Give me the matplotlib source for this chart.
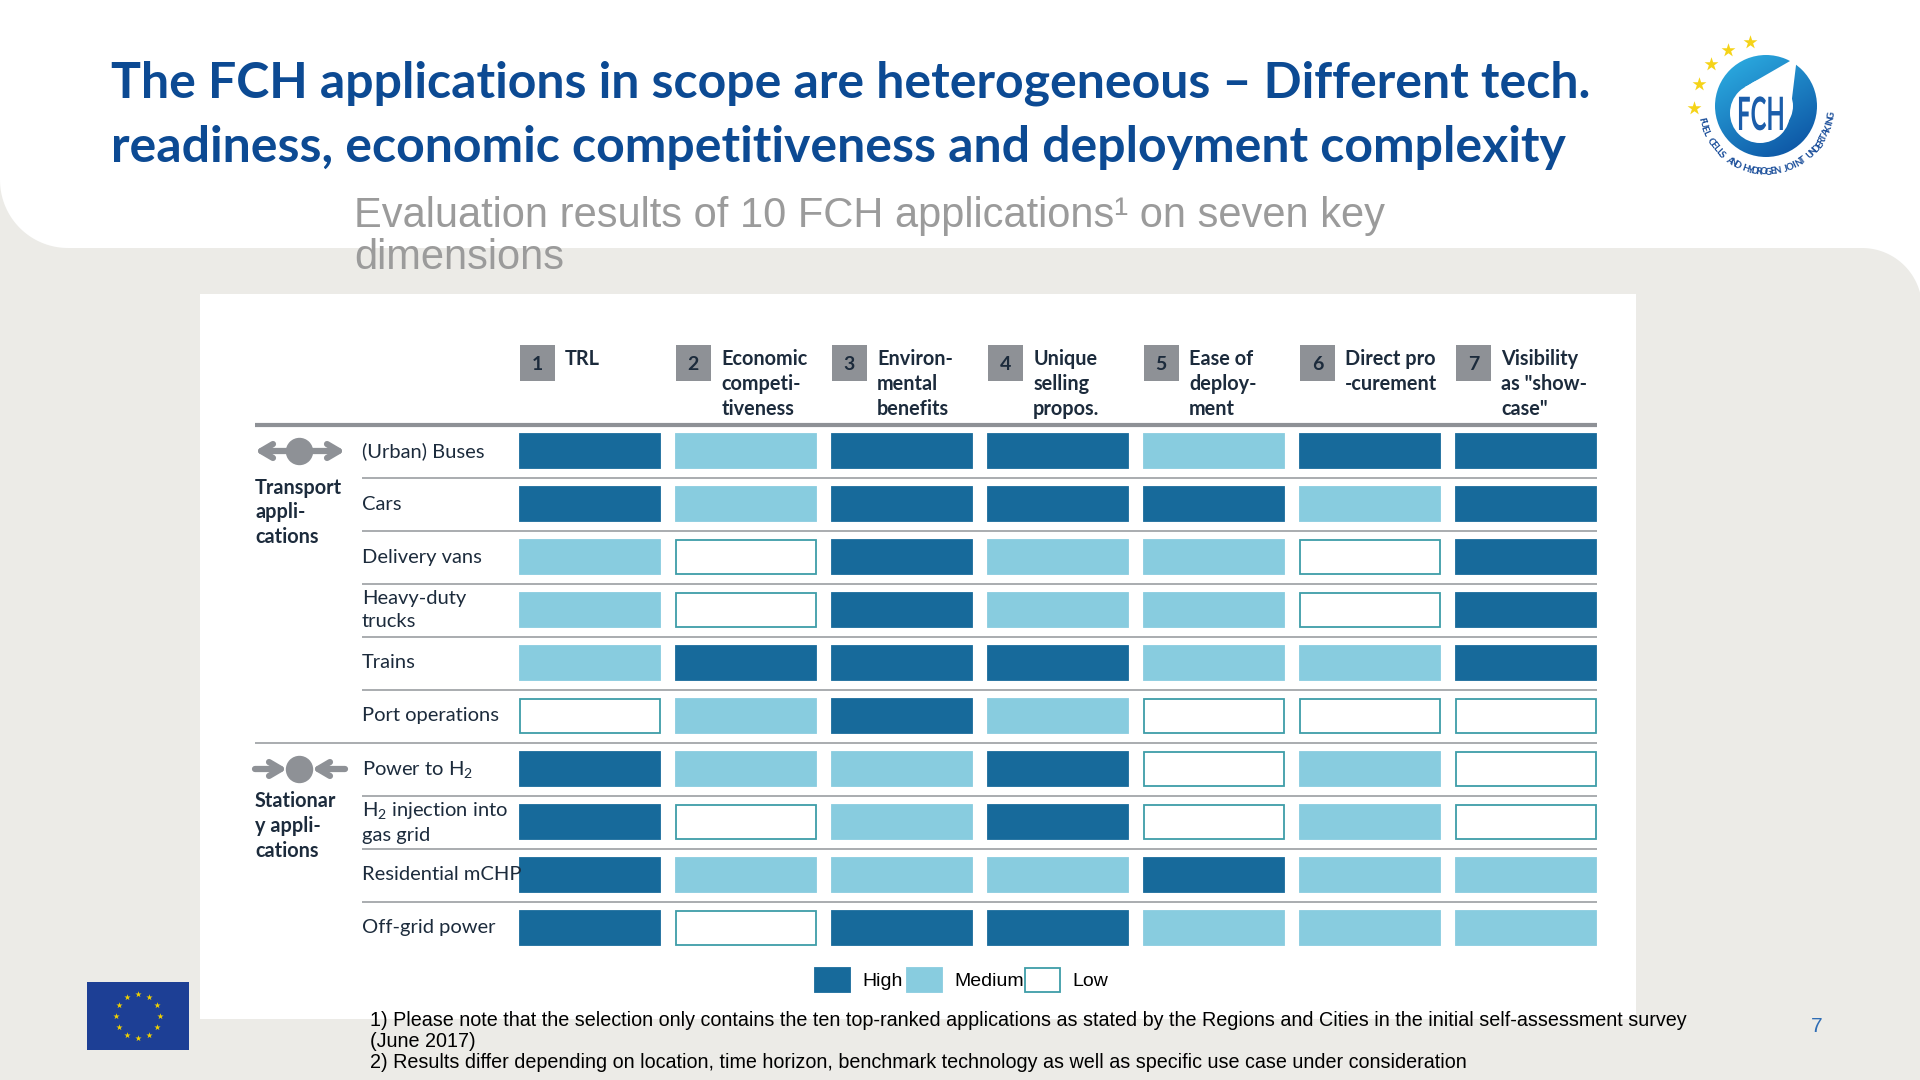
import numpy as np
import matplotlib
matplotlib.use("Agg")
import matplotlib.pyplot as plt
from matplotlib.patches import Rectangle, Circle, Polygon, Wedge, PathPatch
from matplotlib.textpath import TextPath
from matplotlib.font_manager import FontProperties
from matplotlib.transforms import Affine2D

plt.rcParams['font.family'] = ['Lato', 'DejaVu Sans']
plt.rcParams['mathtext.fontset'] = 'custom'
plt.rcParams['mathtext.rm'] = 'Lato'
plt.rcParams['mathtext.it'] = 'Lato:italic'
plt.rcParams['mathtext.bf'] = 'Lato:bold'

# ---- data ----
title_lines = ["The FCH applications in scope are heterogeneous \u2013 Different tech.",
               "readiness, economic competitiveness and deployment complexity"]
subtitle_lines = ["Evaluation results of 10 FCH applications\u00b9 on seven key", "dimensions"]

dimensions = ["TRL", "Economic\ncompeti-\ntiveness", "Environ-\nmental\nbenefits",
              "Unique\nselling\npropos.", "Ease of\ndeploy-\nment", "Direct pro\n-curement",
              "Visibility\nas \"show-\ncase\""]
applications = ["(Urban) Buses", "Cars", "Delivery vans", "Heavy-duty\ntrucks", "Trains",
                "Port operations", "Power to H$_2$", "H$_2$ injection into\ngas grid",
                "Residential mCHP", "Off-grid power"]
groups = ["Transport\nappli-\ncations", "Stationar\ny appli-\ncations"]
group_sizes = [6, 4]
group_inward = [False, True]

levels = ["Low", "Medium", "High"]   # score 0, 1, 2
scores = [
    [2, 1, 2, 2, 1, 2, 2],   # buses
    [2, 1, 2, 2, 2, 1, 2],   # cars
    [1, 0, 2, 1, 1, 0, 2],   # delivery vans
    [1, 0, 2, 1, 1, 0, 2],   # trucks
    [1, 2, 2, 2, 1, 1, 2],   # trains
    [0, 1, 2, 1, 0, 0, 0],   # port operations
    [2, 1, 1, 2, 0, 1, 0],   # power to h2
    [2, 0, 1, 2, 0, 1, 0],   # h2 injection
    [2, 1, 1, 1, 2, 1, 1],   # residential mCHP
    [2, 0, 2, 2, 1, 1, 1],   # off-grid
]

footnotes = ["1) Please note that the selection only contains the ten top-ranked applications as stated by the Regions and Cities in the initial self-assessment survey",
             "(June 2017)",
             "2) Results differ depending on location, time horizon, benchmark technology as well as specific use case under consideration"]
page_no = "7"
logo_ring_text = "FUEL CELLS AND HYDROGEN JOINT UNDERTAKING"

# ---- styles ----
fill = {0: "#FFFFFF", 1: "#88CCDF", 2: "#176A9B"}
edge = {0: "#3E9DA8", 1: "#88CCDF", 2: "#176A9B"}
navy = "#1C2B3C"
gray_box = "#8E9196"
bg_gray = "#ECEBE7"

W, H = 1920, 1080
fig = plt.figure(figsize=(19.2, 10.8), dpi=100)
fig.patch.set_facecolor("white")
bg = fig.add_axes([0, 0, 1, 1])
bg.set_xlim(0, W)
bg.set_ylim(H, 0)
bg.axis("off")

# background shape: white band with rounded bottom-left, grey body with rounded top-right
band = 248
r1, r2 = 68, 60
t = np.linspace(0, np.pi / 2, 40)
arc1 = np.column_stack([r1 - r1 * np.cos(t), band - r1 + r1 * np.sin(t)])
arc2 = np.column_stack([1862 + r2 * np.sin(t), band + r2 - r2 * np.cos(t)])
pts = np.vstack([[0, H + 5], [0, band - r1], arc1, arc2, [W + 5, band + r2], [W + 5, H + 5]])
bg.add_patch(Polygon(pts, closed=True, fc=bg_gray, ec="none"))
bg.add_patch(Rectangle((200, 294), 1436, 725, fc="white", ec="none"))

# title / subtitle
for i, line in enumerate(title_lines):
    bg.text(111, 97 + 65 * i, line, fontsize=36, fontweight="bold", color="#0C4A93", va="baseline")
for i, line in enumerate(subtitle_lines):
    bg.text(354, 227 + 42 * i, line, fontsize=30, color="#9B9B9B", va="baseline",
            family="Liberation Sans")

# ---- matrix axes ----
col_px0, col_step = 520, 156
row_px0, row_step = 451, 53.0
px_left, px_top, px_bot = 250, 335, 960
px_right = col_px0 + len(dimensions) * col_step
x_lo = (px_left - col_px0) / col_step
y_top = (px_top - row_px0) / row_step
y_bot = (px_bot - row_px0) / row_step
ax = fig.add_axes([px_left / W, 1 - px_bot / H, (px_right - px_left) / W, (px_bot - px_top) / H])
ax.set_xlim(x_lo, len(dimensions))
ax.set_ylim(y_bot, y_top)
ax.axis("off")

score_arr = np.array(scores)
rows = np.arange(len(applications))
bar_w, bar_h = 0.895, 0.66
for j in range(len(dimensions)):
    vals = score_arr[:, j]
    ax.barh(rows, bar_w, left=j, height=bar_h, color=[fill[v] for v in vals],
            edgecolor=[edge[v] for v in vals], linewidth=1.3)
    ax.add_patch(Rectangle((j, -2.0), 0.222, 0.68, fc=gray_box, ec="none"))
    ax.text(j + 0.111, -1.64, str(j + 1), ha="center", va="center", fontsize=14,
            fontweight="bold", color=navy)
    ax.text(j + 0.29, -1.92, dimensions[j], ha="left", va="top", fontsize=14.3,
            fontweight="bold", color=navy, linespacing=1.31)

label_x = (362 - col_px0) / col_step
group_x = (255 - col_px0) / col_step
line_end = (1597 - col_px0) / col_step
ax.hlines(-0.5, group_x, line_end, color=gray_box, lw=3)
bounds = np.cumsum(group_sizes)[:-1] - 1
for i in range(len(applications) - 1):
    start = group_x if i in bounds else label_x
    ax.hlines(i + 0.5, start, line_end, color="#A3A6A9", lw=1.3)

for i, lab in enumerate(applications):
    ax.text(label_x, i, lab, ha="left", va="center", fontsize=14.5, color=navy, linespacing=1.4)

# group icons and labels
first = 0
cx = (299 - col_px0) / col_step
a_out = (255 - col_px0) / col_step
a_in_l = (287 - col_px0) / col_step
a_in_r = (312 - col_px0) / col_step
a_out_r = (345 - col_px0) / col_step
label_dy = [0.5, 0.42]
for g, size in enumerate(group_sizes):
    y = first
    ax.scatter([cx], [y], s=350, color=gray_box, zorder=3)
    aprops = dict(arrowstyle="->,head_length=0.85,head_width=0.5", lw=4.5, color=gray_box,
                  shrinkA=0, shrinkB=0)
    if group_inward[g]:
        ax.annotate("", xy=(a_in_l, y), xytext=(a_out, y), arrowprops=aprops)
        ax.annotate("", xy=(a_in_r, y), xytext=(a_out_r, y), arrowprops=aprops)
    else:
        ax.annotate("", xy=(a_out, y), xytext=(a_in_l, y), arrowprops=aprops)
        ax.annotate("", xy=(a_out_r, y), xytext=(a_in_r, y), arrowprops=aprops)
    ax.text(group_x, y + label_dy[g], groups[g], ha="left", va="top", fontsize=14.3,
            fontweight="bold", color=navy, linespacing=1.31)
    first += size

# legend
lx = 815
steps = {2: 92, 1: 118, 0: 0}
for lev in [2, 1, 0]:
    bg.add_patch(Rectangle((lx, 968), 35, 24, fc=fill[lev], ec=edge[lev], lw=1.3))
    bg.text(lx + 47, 981, levels[lev], fontsize=14, va="center", family="Liberation Sans",
            color="black")
    lx += steps[lev]

# footnotes
for i, line in enumerate(footnotes):
    bg.text(370, 1020 + 21.5 * i, line, fontsize=14.2, va="center", family="Liberation Sans",
            color="black")
bg.text(1817, 1027, page_no, fontsize=15, va="center", ha="center", family="Liberation Sans",
        color="#2F6DB5")

# EU flag
bg.add_patch(Rectangle((87, 982), 102, 68, fc="#1D3F95", ec="none"))
ang = np.linspace(0, 2 * np.pi, 12, endpoint=False)
bg.scatter(138 + 22 * np.cos(ang), 1016 + 22 * np.sin(ang), marker="*", s=22, color="#F2D200",
           linewidths=0)

# FCH logo
lcx, lcy, R = 1766, 106, 51
ring = Wedge((lcx, lcy), R, 0, 360, width=24, transform=bg.transData)
gx, gy = np.meshgrid(np.linspace(0, 1, 120), np.linspace(0, 1, 120))
tt = np.clip((gx * 0.6 + gy * 1.0) / 1.6, 0, 1)[..., None]
c1 = np.array([0.18, 0.70, 0.90])
c2 = np.array([0.04, 0.30, 0.62])
grad = c1 * (1 - tt) + c2 * tt
im = bg.imshow(grad, extent=[lcx - R, lcx + R, lcy + R, lcy - R], zorder=2, interpolation="bilinear")
bg.add_patch(ring)
ring.set_visible(False)
im.set_clip_path(ring)
bg.set_xlim(0, W)
bg.set_ylim(H, 0)
icx, icy, ir = 1760, 113, 30
bg.add_patch(Circle((icx, icy), ir, fc="white", ec="none", zorder=3))
tip = np.array([1797, 57])
d = tip - [icx, icy]
th = np.arctan2(d[1], d[0])
off = np.arccos(ir / np.hypot(*d))
p1 = [icx + ir * np.cos(th - off), icy + ir * np.sin(th - off)]
p2 = [icx + ir * np.cos(th + off), icy + ir * np.sin(th + off)]
bg.add_patch(Polygon([p1, tip, p2, [icx, icy]], closed=True, fc="white", ec="none", zorder=3))
tp = TextPath((0, 0), "FCH", size=46, prop=FontProperties(family="Lato", weight="bold"))
sx = 0.52
tw = tp.get_extents().width * sx
tr = Affine2D().scale(sx, -1.0).translate(1759 - tw / 2, 130) + bg.transData
bg.add_patch(PathPatch(tp, transform=tr, fc="#1B5DAA", ec="none", zorder=4))
star_xy = np.array([[1750, 42], [1728, 50], [1711, 64], [1699, 84], [1694, 108]])
bg.scatter(star_xy[:, 0], star_xy[:, 1], marker="*", s=110, color="#F5D317", linewidths=0, zorder=4)
n = len(logo_ring_text)
thetas = np.deg2rad(np.linspace(168, 8, n))
for ch, a in zip(logo_ring_text, thetas):
    bg.text(lcx + 66 * np.cos(a), lcy + 66 * np.sin(a), ch, fontsize=7, fontweight="bold",
            color="#1A4E9A", ha="center", va="center", rotation=90 - np.rad2deg(a), zorder=4)

fig.savefig("out.png", dpi=100)
